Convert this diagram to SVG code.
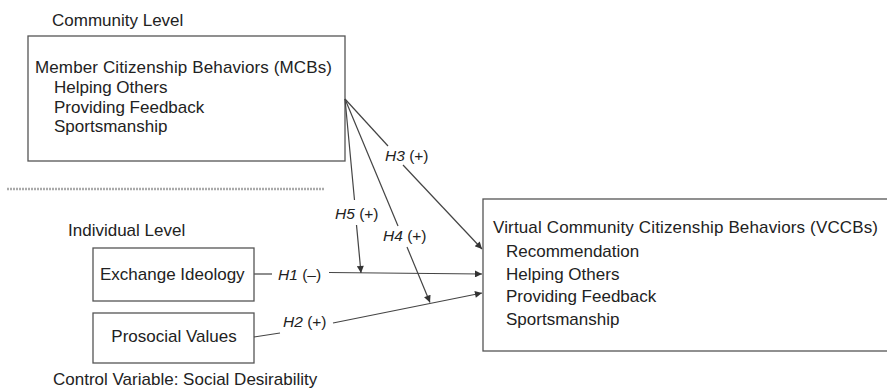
<svg xmlns="http://www.w3.org/2000/svg" width="887" height="388" viewBox="0 0 887 388">
<style>
text{font-family:"Liberation Sans",Arial,sans-serif;font-size:17px;fill:#222}
.lbl{font-size:15.5px}
.box{fill:#fff;stroke:#555;stroke-width:1.3}
.ln{stroke:#444;stroke-width:1.2;fill:none}
</style>
<defs>
<marker id="ah" viewBox="0 0 10 10" refX="10" refY="5" markerWidth="9" markerHeight="7" markerUnits="userSpaceOnUse" orient="auto">
<path d="M0,0L10,5L0,10z" fill="#333"/>
</marker>
</defs>
<rect width="887" height="388" fill="#fff"/>
<text x="52" y="26">Community Level</text>
<g id="mcb">
<rect class="box" x="28" y="36" width="317" height="125"/>
<text x="35" y="73" textLength="297" lengthAdjust="spacing">Member Citizenship Behaviors (MCBs)</text>
<text x="54" y="93">Helping Others</text>
<text x="54" y="112.5">Providing Feedback</text>
<text x="54" y="132">Sportsmanship</text>
</g>
<line x1="7" y1="189" x2="325" y2="189" stroke="#aaa" stroke-width="2.5" stroke-dasharray="2 1"/>
<text x="68" y="236">Individual Level</text>
<g id="exchange">
<rect class="box" x="93" y="248" width="161" height="53"/>
<text x="100" y="280">Exchange Ideology</text>
</g>
<g id="prosocial">
<rect class="box" x="93" y="313" width="161" height="50"/>
<text x="174" y="342" text-anchor="middle">Prosocial Values</text>
</g>
<text x="53" y="385">Control Variable: Social Desirability</text>
<g id="vccb">
<rect class="box" x="483" y="199" width="410" height="152"/>
<text x="493" y="233" textLength="385" lengthAdjust="spacing">Virtual Community Citizenship Behaviors (VCCBs)</text>
<text x="506" y="257">Recommendation</text>
<text x="506" y="279.5">Helping Others</text>
<text x="506" y="302">Providing Feedback</text>
<text x="506" y="324.5">Sportsmanship</text>
</g>
<g id="connectors">
<line class="ln" x1="254" y1="274" x2="272" y2="274"/>
<line class="ln" x1="329" y1="272.5" x2="482" y2="274" marker-end="url(#ah)"/>
<line class="ln" x1="254" y1="337" x2="280" y2="333"/>
<line class="ln" x1="333" y1="323" x2="482" y2="293" marker-end="url(#ah)"/>
<line class="ln" x1="345" y1="99" x2="388" y2="146"/>
<line class="ln" x1="403" y1="165" x2="482" y2="249" marker-end="url(#ah)"/>
<line class="ln" x1="345" y1="99" x2="354.5" y2="200"/>
<line class="ln" x1="356.5" y1="225" x2="361" y2="273" marker-end="url(#ah)"/>
<line class="ln" x1="345" y1="99" x2="398" y2="226"/>
<line class="ln" x1="407" y1="247" x2="430" y2="302.5" marker-end="url(#ah)"/>
<text class="lbl" x="385" y="161"><tspan font-style="italic">H3</tspan> (+)</text>
<text class="lbl" x="335" y="219"><tspan font-style="italic">H5</tspan> (+)</text>
<text class="lbl" x="383" y="241"><tspan font-style="italic">H4</tspan> (+)</text>
<text class="lbl" x="278" y="280"><tspan font-style="italic">H1</tspan> (–)</text>
<text class="lbl" x="283" y="327"><tspan font-style="italic">H2</tspan> (+)</text>
</g>
</svg>
